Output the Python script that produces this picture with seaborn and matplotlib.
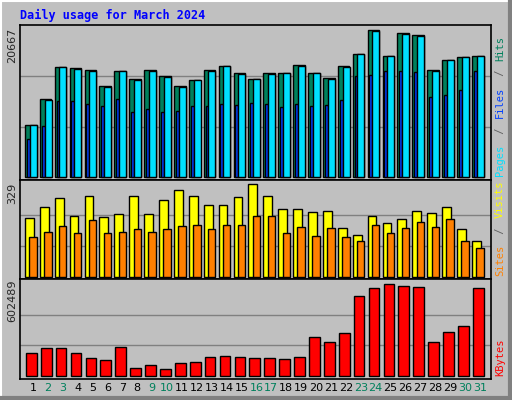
import matplotlib
matplotlib.use("Agg")
import matplotlib.pyplot as plt
import seaborn as sns
import numpy as np
from matplotlib.lines import Line2D

sns.set_style("white")
plt.rcParams['font.family'] = ['DejaVu Sans']

days = list(range(1, 32))
weekend = [2, 3, 9, 10, 16, 17, 23, 24, 30, 31]
hits = [7227, 10882, 15382, 15241, 14960, 12710, 14819, 13694, 14960, 14116, 12710, 13554, 14960,
        15522, 14538, 13694, 14538, 14538, 15663, 14538, 13835, 15522, 17209, 20667, 16928, 20162,
        19881, 14960, 16366, 16787, 16928]
pages = [7227, 10742, 15382, 15100, 14820, 12570, 14819, 13554, 14820, 13976, 12570, 13554, 14820,
         15522, 14398, 13694, 14398, 14538, 15523, 14538, 13695, 15382, 17209, 20527, 16928, 20022,
         19741, 14820, 16366, 16787, 16928]
files = [5301, 7128, 10643, 10643, 10222, 9940, 10925, 9097, 9519, 9097, 9237, 9940, 9940, 10222,
         10081, 10362, 10222, 9800, 10222, 9940, 10081, 10784, 14158, 14299, 14861, 14861, 14721,
         11206, 11487, 12190, 14861]
visits = [208, 247, 279, 218, 286, 211, 222, 286, 222, 272, 308, 286, 254, 254, 283, 329, 286, 240,
          243, 229, 233, 172, 147, 218, 190, 204, 233, 226, 247, 169, 126]
sites = [140, 161, 179, 154, 201, 154, 161, 169, 161, 169, 179, 183, 169, 183, 186, 215, 215, 154,
         176, 144, 172, 140, 129, 183, 154, 172, 194, 176, 204, 129, 104]
kbytes = [147000, 180000, 180000, 147000, 114000, 101000, 187000, 48000, 68000, 42000, 81000, 88000,
          121000, 127000, 121000, 114000, 114000, 108000, 121000, 253000, 220000, 279000, 523000,
          576000, 602489, 589000, 583000, 220000, 286000, 325000, 576000]

BG = "#C0C0C0"
fig = plt.figure(figsize=(5.12, 4.0), dpi=100, facecolor=BG)
L, R = 20/512, 491/512
ax1 = fig.add_axes([L, 1-180/400, R-L, 155/400])
ax2 = fig.add_axes([L, 1-279/400, R-L, 99/400])
ax3 = fig.add_axes([L, 1-379/400, R-L, 100/400])

def bars(ax, vals, color, width, offset, edge_w=1.0):
    n0 = len(ax.patches)
    sns.barplot(x=days, y=vals, native_scale=True, width=width, color=color,
                edgecolor="black", linewidth=edge_w, saturation=1, ax=ax, zorder=3)
    for p in ax.patches[n0:]:
        p.set_x(p.get_x() + offset)

for ax in (ax1, ax2, ax3):
    ax.set_facecolor(BG)
    ax.set_xlim(0.13, 31.74)
    for s in ax.spines.values():
        s.set_color("black"); s.set_linewidth(1.2)
    ax.set_yticks([]); ax.set_xticks([])
    ax.set_xlabel(""); ax.set_ylabel("")

ax1.set_ylim(-464, 21329)
for g in (7000, 14160):
    ax1.axhline(g, color="#808080", lw=1, zorder=1)
bars(ax1, hits, "#00805C", 0.78, -0.15)
bars(ax1, files, "#0040FF", 0.2, -0.32)
bars(ax1, pages, "#00E0FF", 0.47, 0.015)

ax2.set_ylim(-8.2, 344.6)
for g in (110, 220):
    ax2.axhline(g, color="#808080", lw=1, zorder=1)
bars(ax2, visits, "#FFFF00", 0.59, -0.245)
bars(ax2, sites, "#FF8000", 0.5, 0.0)

ax3.set_ylim(-21777, 638123)
for g in (200830, 401659):
    ax3.axhline(g, color="#808080", lw=1, zorder=1)
bars(ax3, kbytes, "#FF0000", 0.72, -0.11)

for ax in (ax1, ax2, ax3):
    ax.set_xticks([]); ax.set_yticks([])
    ax.set_xlabel(""); ax.set_ylabel("")
    ax.set_xlim(0.13, 31.74)

ax3.set_xticks(days)
ax3.set_xticklabels([str(d) for d in days], fontsize=8)
ax3.tick_params(axis="x", length=0, pad=3)
for lab, d in zip(ax3.get_xticklabels(), days):
    lab.set_color("#00805C" if d in weekend else "black")

# max labels
fig.text(12/512, 1-45/400, f"{max(hits)}", rotation=90, ha="center", va="center", fontsize=8)
fig.text(12/512, 1-193/400, f"{max(visits)}", rotation=90, ha="center", va="center", fontsize=8)
fig.text(12/512, 1-301/400, f"{max(kbytes)}", rotation=90, ha="center", va="center", fontsize=8)

mono = dict(family="DejaVu Sans Mono", fontsize=7.5, rotation=90, ha="center", va="bottom")
def vlabel(y0, parts):
    y = y0
    for txt, col in parts:
        t = fig.text(500/512, 1-y/400, txt, color=col, **mono)
        y -= len(txt) * 7.2
vlabel(176, [("Pages", "#00E0FF"), (" / ", "#606060"), ("Files", "#0040FF"),
             (" / ", "#606060"), ("Hits", "#00805C")])
vlabel(276, [("Sites", "#FF8000"), (" / ", "#606060"), ("Visits", "#FFFF00")])
vlabel(376, [("KBytes", "#FF0000")])

fig.text(20/512, 1-15/400, "Daily usage for March 2024", color="#0000FF", fontsize=8.5,
         family="DejaVu Sans Mono", fontweight="bold", ha="left", va="center")

# 3D border
fig.add_artist(Line2D([0, 1], [1-0.5/400]*2, color="white", lw=1.5, transform=fig.transFigure))
fig.add_artist(Line2D([0.5/512]*2, [0, 1], color="white", lw=1.5, transform=fig.transFigure))
fig.add_artist(Line2D([0, 1], [2/400]*2, color="#808080", lw=3, transform=fig.transFigure))
fig.add_artist(Line2D([1-2/512]*2, [0, 1], color="#808080", lw=3, transform=fig.transFigure))

fig.savefig("out.png", dpi=100, facecolor=BG)
